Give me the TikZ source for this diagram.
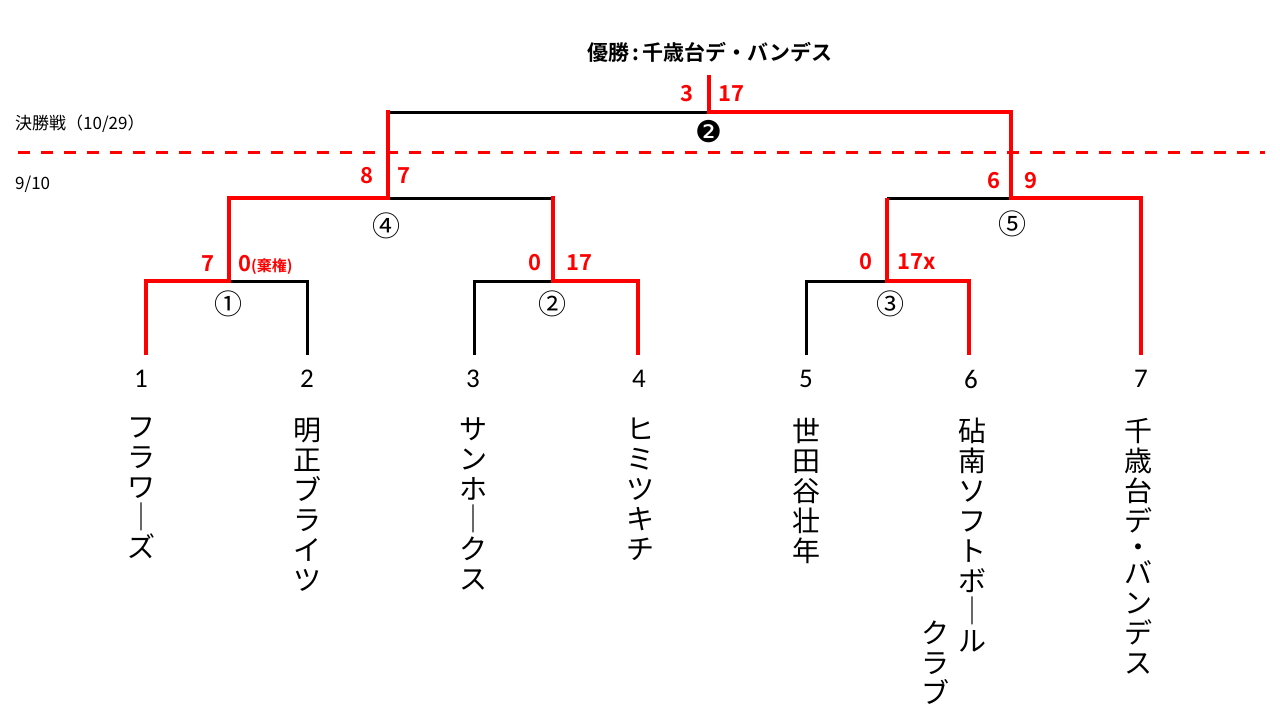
\documentclass[tikz,border=0pt]{standalone}
\usepackage{fontspec}
\usepackage{graphicx}
\newfontfamily\jp{Noto Sans CJK JP}[BoldFont={Noto Sans CJK JP Bold}]
\newfontfamily\calfont{Carlito}
\newfontfamily\dvfont{DejaVu Sans}
\definecolor{wred}{RGB}{255,0,0}
\begin{document}
\begin{tikzpicture}[x=1pt,y=-1pt,
  blk/.style={line width=3pt,black,line join=miter},
  rd/.style={line width=3.5pt,wred,line join=miter},
  score/.style={text=wred,font=\jp\bfseries\fontsize{22}{24}\selectfont,inner sep=0},
  circ/.style={font=\jp\fontsize{28}{30}\selectfont,inner sep=0},
  tnum/.style={font=\calfont\fontsize{27}{30}\selectfont,inner sep=0},
  vname/.style={anchor=north,align=center,inner sep=0,font=\jp\fontsize{28}{30}\selectfont},
  side/.style={anchor=west,inner sep=0,font=\jp\fontsize{17}{20}\selectfont},
]
\useasboundingbox (0,0) rectangle (1280,720);
% coordinates
\coordinate (t1) at (146,355); \coordinate (t2) at (307,355);
\coordinate (t3) at (474,355); \coordinate (t4) at (638,355);
\coordinate (t5) at (806,355); \coordinate (t6) at (969,355);
\coordinate (t7) at (1141,355);
\coordinate (m1l) at (146,281); \coordinate (m1c) at (229,281); \coordinate (m1r) at (307,281); \coordinate (m1t) at (229,198);
\coordinate (m2l) at (474,281); \coordinate (m2c) at (553,281); \coordinate (m2r) at (638,281); \coordinate (m2t) at (553,196);
\coordinate (m3l) at (806,281); \coordinate (m3c) at (887,281); \coordinate (m3r) at (969,281); \coordinate (m3t) at (887,198);
\coordinate (m4c) at (388,198); \coordinate (m4r) at (553,198); \coordinate (m4t) at (388,110);
\coordinate (m5l) at (887,198); \coordinate (m5c) at (1011,198); \coordinate (m5r) at (1141,198);
\coordinate (fl) at (388,112); \coordinate (fc) at (709,112); \coordinate (fr) at (1011,112); \coordinate (ft) at (709,75);
\coordinate (dl) at (18,152); \coordinate (dr) at (1265,152);
% black lines
\draw[blk] (m1c) -- (m1r) -- (t2);
\draw[blk] (t3) -- (m2l) -- (m2c);
\draw[blk] (t5) -- (m3l) -- (m3c);
\draw[blk] (m4c) -- (m4r);
\draw[blk] (m5l) -- (m5c);
\draw[blk] (m4c) -- (fl) -- (fc);
% red lines
\draw[rd] (t1) -- (m1l) -- (m1c) -- (m1t) -- (m4c) -- (m4t);
\draw[rd] (m2t) -- (m2c) -- (m2r) -- (t4);
\draw[rd] (m3t) -- (m3c) -- (m3r) -- (t6);
\draw[rd] (ft) -- (fc) -- (fr) -- (m5c) -- (m5r) -- (t7);
\draw[wred,line width=3pt,dash pattern=on 12pt off 11pt] (dl) -- (dr);
% title and side labels
\node[inner sep=0,font=\jp\bfseries\fontsize{21}{24}\selectfont] (champ) at (710,52) {優勝\,:\,千歳台デ・バンデス};
\node[side] (lblf) at (15,124) {決勝戦（10/29）};
\node[side] (lbls) at (15,184) {9/10};
% scores
\node[score] (sf1) at (687,94) {3};
\node[score] (sf2) at (731,94) {17};
\node[score] (s41) at (367,176) {8};
\node[score] (s42) at (404,176) {7};
\node[score] (s51) at (994,181) {6};
\node[score] (s52) at (1031,181) {9};
\node[score] (s11) at (208,264) {7};
\node[score,anchor=base west] (s12) at (238,271.5) {0{\fontsize{15}{16}\selectfont(棄権)}};
\node[score] (s21) at (535,263) {0};
\node[score] (s22) at (579,263) {17};
\node[score] (s31) at (866,262) {0};
\node[score,anchor=west] (s32) at (897,262) {17x};
% match numbers
\node[font=\dvfont\fontsize{30}{32}\selectfont,inner sep=0] (g2) at (709,132) {❷};
\node[circ] (c1) at (228,304) {①};
\node[circ] (c2) at (552,304) {②};
\node[circ] (c3) at (890,304) {③};
\node[circ] (c4) at (386,226) {④};
\node[circ] (c5) at (1012,224) {⑤};
% team numbers
\node[tnum] (n1) at (141,379) {1};
\node[tnum] (n2) at (307,379) {2};
\node[tnum] (n3) at (473,379) {3};
\node[tnum] (n4) at (639,379) {4};
\node[tnum] (n5) at (806,379) {5};
\node[tnum] (n6) at (971,379) {6};
\node[tnum] (n7) at (1141,379) {7};
% team names (vertical)
\node[vname] (v1) at (141,418) {フ\\ラ\\ワ\\｜\\ズ};
\node[vname] (v2) at (307,418) {明\\正\\ブ\\ラ\\イ\\ツ};
\node[vname] (v3) at (473,418) {サ\\ン\\ホ\\｜\\ク\\ス};
\node[vname] (v4) at (640,418) {ヒ\\ミ\\ツ\\キ\\チ};
\node[vname] (v5) at (806,418) {世\\田\\谷\\壮\\年};
\node[vname] (v6) at (972,418) {砧\\南\\ソ\\フ\\ト\\ボ\\｜\\ル};
\node[vname] (v6b) at (935,621) {ク\\ラ\\ブ};
\node[vname] (v7) at (1138,418) {千\\歳\\台\\デ\\[-4pt]・\\[-4pt]バ\\ン\\デ\\ス};
\end{tikzpicture}
\end{document}
